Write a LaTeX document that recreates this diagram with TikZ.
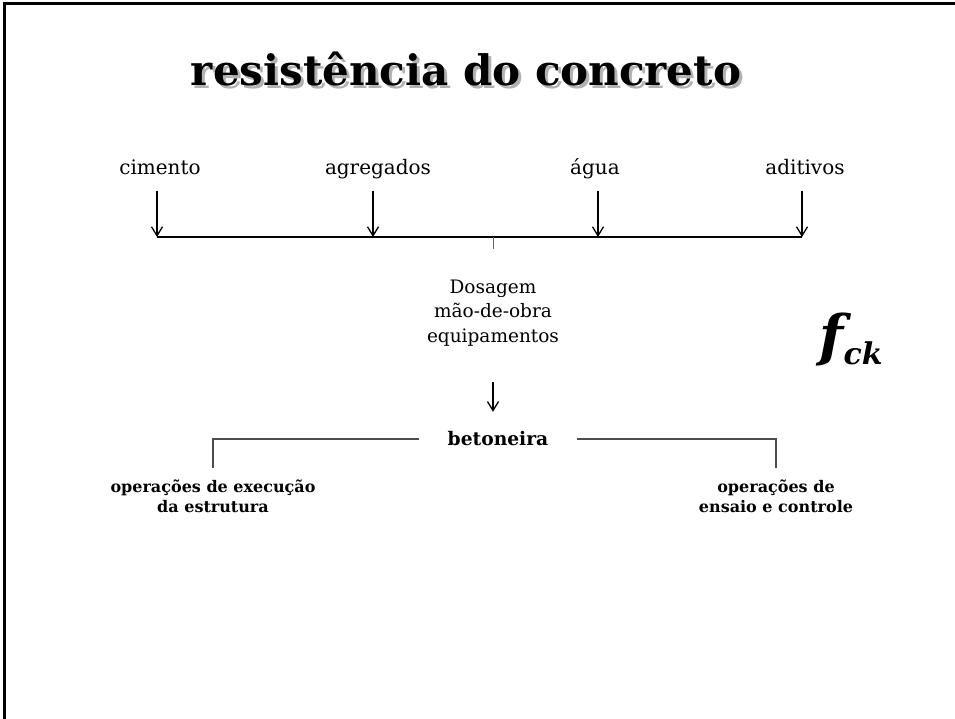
\documentclass[tikz,border=0pt]{standalone}
\usepackage{fontspec}
\setmainfont{DejaVu Serif}
\usetikzlibrary{arrows.meta}

\tikzset{
  rotulo/.style={font=\fontsize{20}{24}\selectfont, inner sep=0pt, text depth=5pt, anchor=base},
  seta/.style={-{Straight Barb[length=9pt,width=11pt]}, line width=1.3pt, shorten <=11pt},
  barra/.style={line width=1.3pt},
  ramo/.style={line width=1.3pt, black!70},
  operacao/.style={font=\fontsize{16}{20}\selectfont\bfseries, align=center, inner sep=0pt, anchor=north},
  titulo/.style={font=\fontsize{42}{50}\selectfont\bfseries, anchor=base},
}

\begin{document}
\begin{tikzpicture}[x=1pt,y=-1pt]
  \useasboundingbox (0,0) rectangle (955,719);
  \draw[line width=3pt] (4,719) -- (4,4) -- (955,4);

  % titulo
  \node[titulo, text=black!30] (sombra) at (469,89) {resistência do concreto};
  \node[titulo] (titulo) at (466,86) {resistência do concreto};

  % materiais
  \node[rotulo] (cimento) at (160,175) {cimento};
  \node[rotulo] (agregados) at (378,175) {agregados};
  \node[rotulo] (agua) at (595,175) {água};
  \node[rotulo] (aditivos) at (805,175) {aditivos};

  \coordinate (b1) at (157,237);
  \coordinate (b2) at (373,237);
  \coordinate (b3) at (598,237);
  \coordinate (b4) at (802,237);
  \coordinate (meio) at (493,237);
  \coordinate (meiob) at (493,249);
  \draw[barra] (b1) -- (b4);
  \draw[line width=1pt, black!60] (meio) -- (meiob);
  \foreach \n/\b in {cimento/b1, agregados/b2, agua/b3, aditivos/b4}
    \draw[seta] (\b |- \n.south) -- (\b);

  \node[rotulo, font=\fontsize{18.5}{22}\selectfont] (dosagem) at (493,293) {Dosagem};
  \node[rotulo, font=\fontsize{18.5}{22}\selectfont] (maoobra) at (493,317) {mão-de-obra};
  \node[rotulo, font=\fontsize{18.5}{22}\selectfont] (equip) at (493,342) {equipamentos};

  \node[anchor=base, inner sep=0pt] (fck) at (851,355)
    {\bfseries\itshape\fontsize{56}{56}\selectfont f\raisebox{-9pt}{\fontsize{30}{30}\selectfont ck}};

  % betoneira
  \node[font=\fontsize{18.7}{22}\selectfont\bfseries, inner xsep=28pt, inner ysep=0pt,
        text height=12pt, text depth=0pt, anchor=base] (betoneira) at (498,445) {betoneira};
  \draw[seta, shorten <=35pt, shorten >=21pt] (equip.south) -- (equip.south |- betoneira.north);

  \node[operacao] (execucao) at (213,480) {operações de execução\\da estrutura};
  \node[operacao] (ensaio) at (776,480) {operações de\\ensaio e controle};
  \draw[ramo, shorten >=12pt] (betoneira.west) -| (execucao.north);
  \draw[ramo, shorten >=12pt] (betoneira.east) -| (ensaio.north);
\end{tikzpicture}
\end{document}
